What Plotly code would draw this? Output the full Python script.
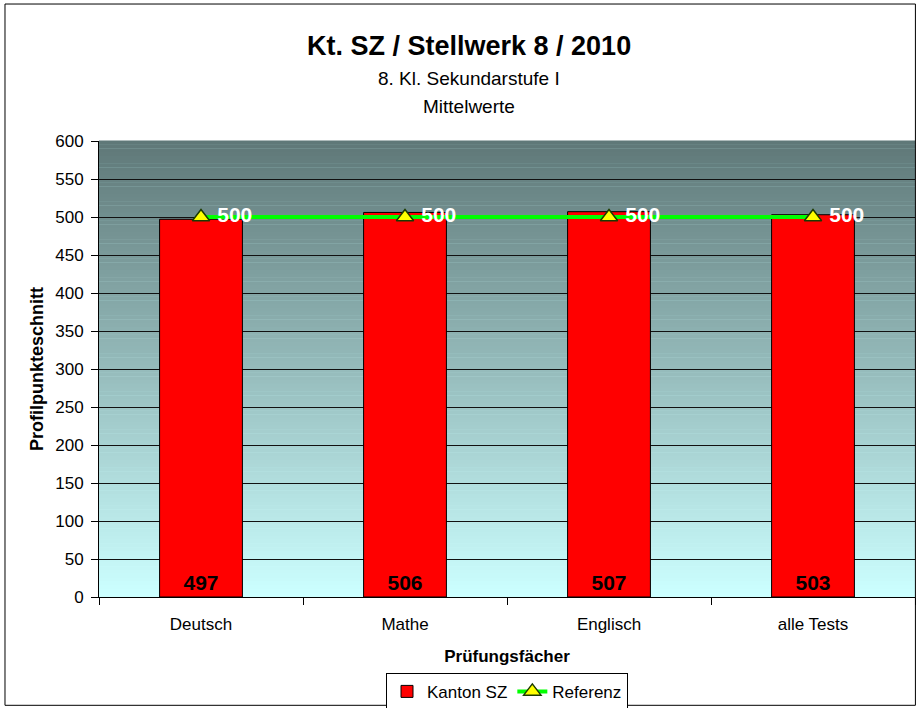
import plotly.graph_objects as go

categories = ["Deutsch", "Mathe", "Englisch", "alle Tests"]
kanton_values = [497, 506, 507, 503]
referenz_values = [500, 500, 500, 500]
y_ticks = [0, 50, 100, 150, 200, 250, 300, 350, 400, 450, 500, 550, 600]

FONT = "Liberation Sans, Arial, sans-serif"

fig = go.Figure()
fig.add_trace(go.Bar(
    x=categories, y=kanton_values, name="Kanton SZ",
    marker=dict(color="#ff0000", line=dict(color="black", width=1)),
    text=[str(v) for v in kanton_values], textposition="inside",
    insidetextanchor="start",
    textfont=dict(family=FONT, size=21, color="black", weight="bold"),
    cliponaxis=False,
))
fig.add_trace(go.Scatter(
    x=categories, y=referenz_values, name="Referenz", mode="lines+markers+text",
    line=dict(color="#00ff00", width=4),
    marker=dict(symbol="triangle-up", size=15, color="#ffff00",
                line=dict(color="#1a3a00", width=1.5)),
    text=[" " + str(v) for v in referenz_values], textposition="middle right",
    textfont=dict(family=FONT, size=21, color="white", weight="bold"),
    cliponaxis=False,
))

# gradient plot background (top dark grey-teal -> bottom light cyan)
shapes = []
n = 120
top = (95, 120, 120)
bot = (204, 255, 255)
for i in range(n):
    t = i / (n - 1)
    c = tuple(round(top[k] + (bot[k] - top[k]) * t) for k in range(3))
    y1 = 1 - i / n
    y0 = 1 - (i + 1) / n
    shapes.append(dict(type="rect", xref="x domain", yref="y domain",
                       x0=0, x1=1, y0=y0, y1=y1 + 0.001, layer="below",
                       line=dict(width=0), fillcolor="rgb(%d,%d,%d)" % c))
# outer chart border
shapes.append(dict(type="rect", xref="paper", yref="paper",
                   x0=-0.1152, x1=1.0005, y0=-0.2375, y1=1.3004,
                   line=dict(color="black", width=1), layer="above"))

fig.update_layout(
    width=917, height=708,
    margin=dict(l=99, r=2, t=141, b=111, autoexpand=False),
    paper_bgcolor="white", plot_bgcolor="#ccffff",
    font=dict(family=FONT, size=16, color="black"),
    bargap=0.594,
    shapes=shapes,
    showlegend=True,
    legend=dict(orientation="h", x=0.5, xanchor="center", y=-0.208, yanchor="middle",
                bordercolor="black", borderwidth=1, bgcolor="white",
                font=dict(family=FONT, size=17), itemwidth=30, tracegroupgap=0),
    annotations=[
        dict(text="<b>Kt. SZ / Stellwerk 8 / 2010</b>", xref="paper", yref="paper",
             x=0.453, y=1.208, xanchor="center", yanchor="middle", showarrow=False,
             font=dict(family=FONT, size=27)),
        dict(text="8. Kl. Sekundarstufe I", xref="paper", yref="paper",
             x=0.453, y=1.136, xanchor="center", yanchor="middle", showarrow=False,
             font=dict(family=FONT, size=19)),
        dict(text="Mittelwerte", xref="paper", yref="paper",
             x=0.453, y=1.075, xanchor="center", yanchor="middle", showarrow=False,
             font=dict(family=FONT, size=19)),
    ],
    xaxis=dict(
        automargin=False,
        showgrid=False, showline=True, linecolor="black", linewidth=1,
        ticks="outside", tickson="boundaries", ticklen=7, tickcolor="black",
        tickfont=dict(family=FONT, size=17), ticklabelstandoff=12,
        title=dict(text="<b>Prüfungsfächer</b>", font=dict(family=FONT, size=17), standoff=16),
    ),
    yaxis=dict(
        automargin=False,
        range=[0, 600], tickvals=y_ticks, showgrid=True, gridcolor="#111111", gridwidth=1,
        showline=True, linecolor="black", linewidth=1, ticks="outside", ticklen=7,
        tickcolor="black", tickfont=dict(family=FONT, size=17), zeroline=False,
        ticklabelstandoff=4,
        title=dict(text="<b>Profilpunkteschnitt</b>", font=dict(family=FONT, size=18), standoff=6),
    ),
)

fig.write_html("out.html", config={"displayModeBar": False},
               post_script="document.body.style.margin='0';")
